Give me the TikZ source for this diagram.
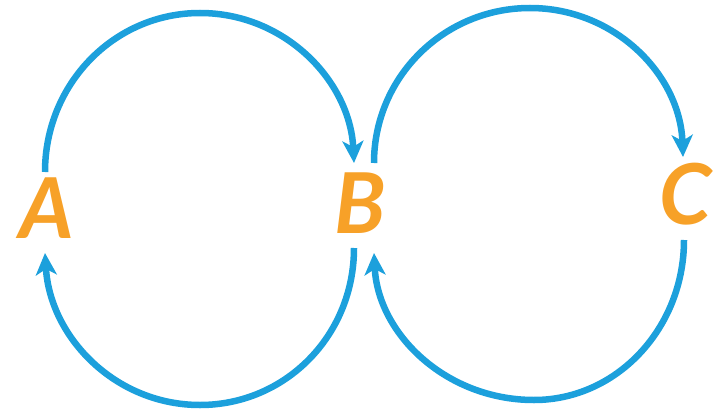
\documentclass[tikz,border=0pt]{standalone}
\usepackage{fontspec}
\setmainfont{Lato}
\usetikzlibrary{arrows.meta,calc}
\definecolor{arcblue}{HTML}{1CA0DC}
\definecolor{letterorange}{HTML}{F7A128}
\begin{document}
\begin{tikzpicture}[x=1pt,y=-1pt,
  letter/.style={text=letterorange, font=\fontsize{84}{84}\selectfont\bfseries\itshape, inner sep=0pt, anchor=center},
  arc/.style={draw=arcblue, line width=6.5pt, -{Stealth[length=22pt,width=21pt,inset=6pt]}}]
\useasboundingbox (0,0) rectangle (715,412);
\node[letter] (A) at (47,208) {A};
\node[letter] (B) at (360,203) {B};
\node[letter] (C) at (686,194) {C};
\coordinate (t1) at (200,13);
\coordinate (b1) at (200,405);
\coordinate (t2) at (530,8);
\coordinate (b2) at (534,400);
\draw[arc] ($(A)+(-2,-36)$) .. controls (45,84) and (114,13) .. (t1)
  .. controls (285,13) and (350,81) .. ($(B)+(-6,-40)$);
\draw[arc] ($(B)+(-6,45)$) .. controls (354,336) and (285,405) .. (b1)
  .. controls (115,405) and (50,337) .. ($(A)+(-2,45)$);
\draw[arc] ($(B)+(14,-40)$) .. controls (374,77) and (444,8) .. (t2)
  .. controls (614,8) and (680,74) .. ($(C)+(-3,-37)$);
\draw[arc] ($(C)+(-2,46)$) .. controls (684,328) and (617,400) .. (b2)
  .. controls (446,400) and (378,334) .. ($(B)+(14,50)$);
\end{tikzpicture}
\end{document}
